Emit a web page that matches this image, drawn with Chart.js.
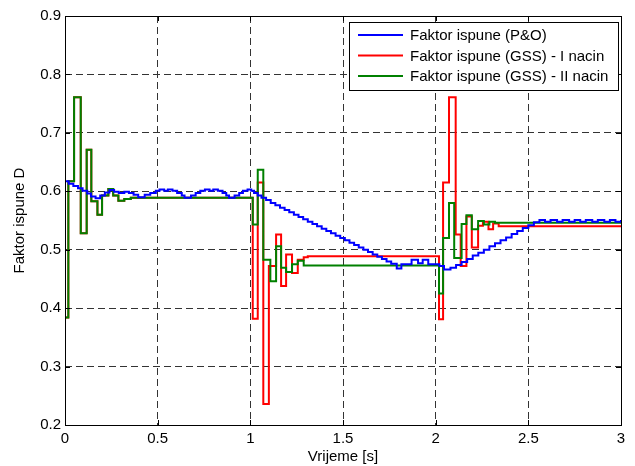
<!DOCTYPE html>
<html lang="hr">
<head>
    <meta charset="UTF-8">
    <title>Faktor ispune D</title>
    <script src="https://cdn.jsdelivr.net/npm/chart.js"></script>
    <style>
        body {
            margin: 0;
            background-color: white;
        }
        #wrap {
            width: 635px;
            height: 466px;
        }
    </style>
</head>
<body>
    <div id="wrap"><canvas id="dutyChart" width="635" height="466"></canvas></div>

    <script>
        // P&O duty cycle (time [s], value) - held until the next sample
        const poTime = [0, 0.02, 0.045, 0.07, 0.095, 0.12, 0.14, 0.165, 0.19, 0.215, 0.24, 0.265, 0.29, 0.32, 0.345, 0.37, 0.395,
            0.43, 0.46, 0.49, 0.51, 0.535, 0.555, 0.58, 0.605, 0.63, 0.645, 0.68, 0.705, 0.73, 0.755, 0.78, 0.8, 0.825, 0.85, 0.87,
            0.885, 0.915, 0.94, 0.96, 0.985, 1.005, 1.02, 1.04, 1.06, 1.085, 1.11, 1.135, 1.16, 1.185, 1.21, 1.235, 1.26, 1.285,
            1.31, 1.335, 1.36, 1.385, 1.41, 1.435, 1.46, 1.485, 1.51, 1.535, 1.56, 1.585, 1.61, 1.635, 1.66, 1.685, 1.71, 1.735,
            1.76, 1.79, 1.815, 1.87, 1.905, 1.93, 1.96, 2.02, 2.045, 2.08, 2.11, 2.14, 2.17, 2.2, 2.23, 2.26, 2.29, 2.32, 2.35,
            2.38, 2.41, 2.44, 2.47, 2.5, 2.53, 2.56, 2.59, 2.62, 2.655, 2.685, 2.72, 2.75, 2.78, 2.81, 2.845, 2.875, 2.91, 2.94,
            2.97, 3.0];
        const poDuty = [0.617, 0.613, 0.609, 0.605, 0.601, 0.596, 0.591, 0.588, 0.593, 0.598, 0.602, 0.599, 0.597, 0.599, 0.597, 0.594, 0.590,
            0.594, 0.597, 0.601, 0.603, 0.601, 0.603, 0.601, 0.597, 0.593, 0.589, 0.593, 0.597, 0.601, 0.603, 0.601, 0.603, 0.601, 0.597, 0.593,
            0.589, 0.593, 0.597, 0.601, 0.603, 0.601, 0.597, 0.593, 0.589, 0.585, 0.580, 0.576, 0.572, 0.568, 0.564, 0.560, 0.556, 0.552,
            0.548, 0.544, 0.540, 0.536, 0.532, 0.528, 0.524, 0.520, 0.516, 0.512, 0.508, 0.504, 0.500, 0.496, 0.492, 0.488, 0.484, 0.480,
            0.476, 0.468, 0.475, 0.483, 0.477, 0.483, 0.475, 0.472, 0.466, 0.469, 0.474, 0.479, 0.484, 0.490, 0.495, 0.500, 0.506, 0.511, 0.516,
            0.521, 0.527, 0.532, 0.537, 0.542, 0.547, 0.551, 0.548, 0.551, 0.548, 0.551, 0.548, 0.551, 0.548, 0.551, 0.548, 0.551, 0.548, 0.551,
            0.548, 0.551];

        // GSS, method I
        const gss1Time = [0, 0.018, 0.049, 0.085, 0.117, 0.142, 0.175, 0.2, 0.234, 0.26, 0.288, 0.32, 0.355, 1.013, 1.04, 1.07, 1.1,
            1.139, 1.166, 1.193, 1.225, 1.256, 1.288, 1.31, 2.018, 2.04, 2.072, 2.108, 2.135, 2.166, 2.195, 2.229, 2.255, 2.285, 2.31,
            2.34, 3.0];
        const gss1Duty = [0.384, 0.617, 0.761, 0.528, 0.671, 0.583, 0.560, 0.593, 0.604, 0.593, 0.584, 0.587, 0.589, 0.382, 0.615, 0.236, 0.472,
            0.526, 0.438, 0.492, 0.460, 0.483, 0.487, 0.489, 0.381, 0.615, 0.761, 0.526, 0.472, 0.557, 0.504, 0.541, 0.548, 0.535, 0.545,
            0.540, 0.540];

        // GSS, method II
        const gss2Time = [0, 0.018, 0.049, 0.085, 0.117, 0.142, 0.175, 0.2, 0.234, 0.26, 0.288, 0.32, 0.355, 1.013, 1.04, 1.07, 1.108,
            1.139, 1.166, 1.193, 1.225, 1.256, 1.288, 2.018, 2.04, 2.072, 2.1, 2.14, 2.166, 2.195, 2.229, 2.26, 2.29, 2.32, 3.0];
        const gss2Duty = [0.384, 0.617, 0.761, 0.528, 0.671, 0.583, 0.560, 0.593, 0.604, 0.593, 0.584, 0.587, 0.589, 0.543, 0.637, 0.483, 0.446,
            0.506, 0.469, 0.462, 0.475, 0.481, 0.473, 0.425, 0.520, 0.580, 0.486, 0.544, 0.559, 0.535, 0.549, 0.543, 0.548, 0.546, 0.546];

        const seriesLabels = ['Faktor ispune (P&O)', 'Faktor ispune (GSS) - I nacin', 'Faktor ispune (GSS) - II nacin'];
        const seriesColors = ['#0000ff', '#ff0000', '#008000'];
        const xTicks = [0, 0.5, 1, 1.5, 2, 2.5, 3];
        const yTicks = [0.2, 0.3, 0.4, 0.5, 0.6, 0.7, 0.8, 0.9];

        const FONT = 'Arial, "Liberation Sans", sans-serif';

        function toPoints(ts, vs) {
            return ts.map((t, i) => ({ x: t, y: vs[i] }));
        }

        // box around the axes plus inward ticks on all four sides
        const framePlugin = {
            id: 'frame',
            afterDatasetsDraw(chart) {
                const { ctx, chartArea: a, scales } = chart;
                ctx.save();
                ctx.strokeStyle = '#000';
                ctx.lineWidth = 1;
                ctx.beginPath();
                xTicks.forEach(v => {
                    const px = Math.round(scales.x.getPixelForValue(v)) + 0.5;
                    ctx.moveTo(px, a.bottom); ctx.lineTo(px, a.bottom - 5);
                    ctx.moveTo(px, a.top); ctx.lineTo(px, a.top + 5);
                });
                yTicks.forEach(v => {
                    const py = Math.round(scales.y.getPixelForValue(v)) + 0.5;
                    ctx.moveTo(a.left, py); ctx.lineTo(a.left + 5, py);
                    ctx.moveTo(a.right, py); ctx.lineTo(a.right - 5, py);
                });
                ctx.stroke();
                ctx.strokeRect(Math.round(a.left) + 0.5, Math.round(a.top) + 0.5,
                    Math.round(a.right - a.left), Math.round(a.bottom - a.top));
                ctx.restore();
            }
        };

        // legend box in the upper right corner of the axes
        const legendPlugin = {
            id: 'boxLegend',
            afterDatasetsDraw(chart) {
                const { ctx } = chart;
                const x0 = 349.5, y0 = 22.5, w = 269, h = 68;
                ctx.save();
                ctx.fillStyle = '#fff';
                ctx.fillRect(x0, y0, w, h);
                ctx.strokeStyle = '#000';
                ctx.lineWidth = 1;
                ctx.strokeRect(x0, y0, w, h);
                ctx.font = '15px ' + FONT;
                ctx.textBaseline = 'middle';
                ctx.fillStyle = '#000';
                seriesLabels.forEach((label, i) => {
                    const y = 35 + i * 20.5;
                    ctx.strokeStyle = seriesColors[i];
                    ctx.lineWidth = 2;
                    ctx.beginPath();
                    ctx.moveTo(358, y);
                    ctx.lineTo(403, y);
                    ctx.stroke();
                    ctx.fillText(label, 410, y + 1);
                });
                ctx.restore();
            }
        };

        const gridStyle = { color: '#333', lineWidth: 1, drawTicks: false };

        new Chart(document.getElementById('dutyChart'), {
            type: 'line',
            data: {
                datasets: [
                    { label: seriesLabels[0], data: toPoints(poTime, poDuty), borderColor: seriesColors[0], order: 0 },
                    { label: seriesLabels[1], data: toPoints(gss1Time, gss1Duty), borderColor: seriesColors[1], order: 2 },
                    { label: seriesLabels[2], data: toPoints(gss2Time, gss2Duty), borderColor: seriesColors[2], order: 1 }
                ]
            },
            options: {
                responsive: false,
                animation: false,
                events: [],
                layout: { padding: { top: 16, right: 14, left: 0, bottom: 0 } },
                elements: {
                    // each sample holds its value until the next one
                    line: { borderWidth: 2, stepped: 'before', tension: 0, fill: false },
                    point: { radius: 0 }
                },
                plugins: {
                    legend: { display: false },
                    tooltip: { enabled: false }
                },
                scales: {
                    x: {
                        type: 'linear',
                        min: 0,
                        max: 3,
                        afterBuildTicks: s => { s.ticks = xTicks.map(v => ({ value: v })); },
                        afterFit: s => { s.height = 41; },
                        grid: gridStyle,
                        border: { display: false, dash: [7, 4] },
                        ticks: {
                            padding: 5,
                            maxRotation: 0,
                            color: '#000',
                            font: { family: FONT, size: 15 },
                            callback: v => String(+v.toFixed(2))
                        },
                        title: {
                            display: true,
                            text: 'Vrijeme [s]',
                            color: '#000',
                            font: { family: FONT, size: 15 },
                            padding: { top: 0, bottom: 0 }
                        }
                    },
                    y: {
                        type: 'linear',
                        min: 0.2,
                        max: 0.9,
                        afterBuildTicks: s => { s.ticks = yTicks.map(v => ({ value: v })); },
                        afterFit: s => { s.width = 65; },
                        grid: gridStyle,
                        border: { display: false, dash: [7, 4] },
                        ticks: {
                            padding: 4,
                            color: '#000',
                            font: { family: FONT, size: 15 },
                            callback: v => String(+v.toFixed(2))
                        },
                        title: {
                            display: true,
                            text: 'Faktor ispune D',
                            color: '#000',
                            font: { family: FONT, size: 15 },
                            padding: { top: 11, bottom: 0 }
                        }
                    }
                }
            },
            plugins: [framePlugin, legendPlugin]
        });
    </script>
</body>
</html>
